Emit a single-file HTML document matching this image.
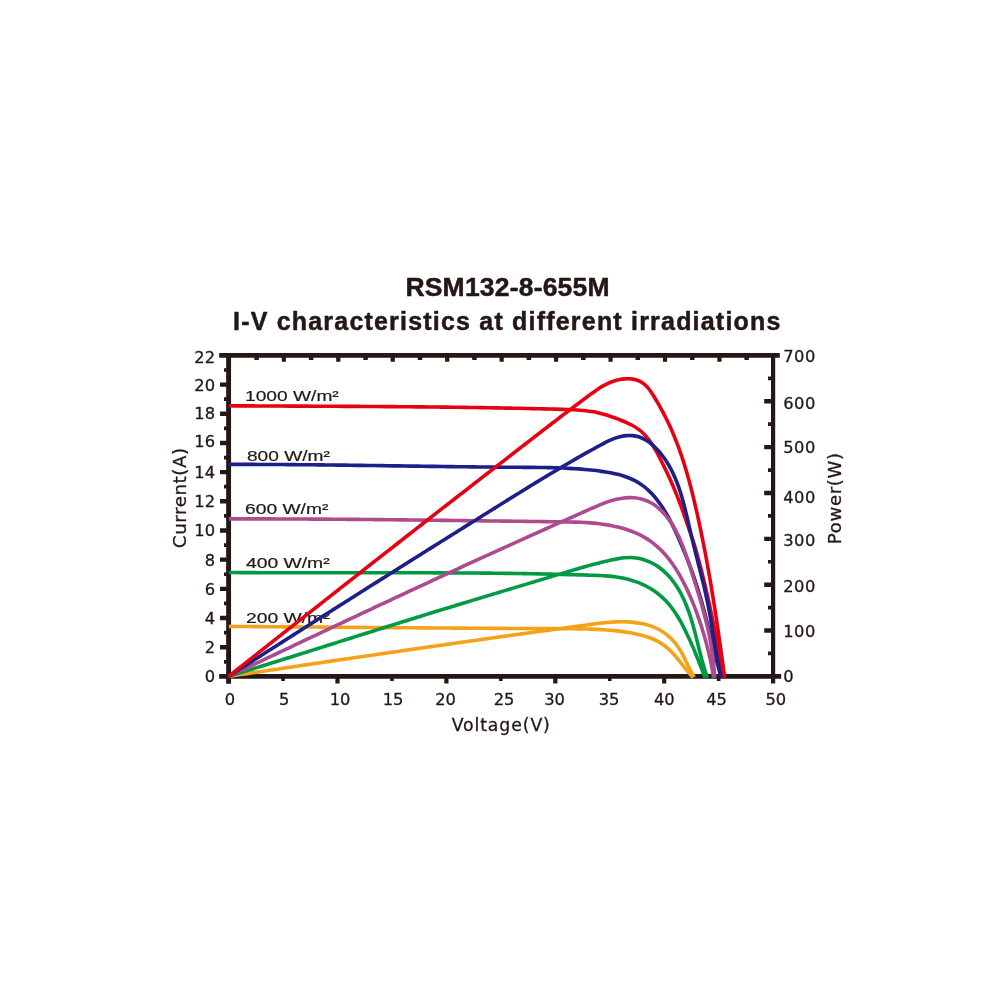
<!DOCTYPE html>
<html lang="en"><head><meta charset="utf-8"><title>RSM132-8-655M I-V characteristics</title>
<style>html,body{margin:0;padding:0;background:#fff}body{width:1000px;height:1000px;overflow:hidden}svg{display:block}</style></head>
<body>
<svg width="1000" height="1000" viewBox="0 0 1000 1000">
<rect width="1000" height="1000" fill="#fff"/>
<g stroke="#231815" fill="none">
<path stroke-width="4.9" d="M219.2 355.4H779.8 M219.2 676.4H781.2 M228.6 355.4V683.7"/>
<path stroke-width="4.2" d="M773.1 355.4V683.4"/>
<path stroke-width="4.4" d="M220.0 647.22H228.6M220.0 618.04H228.6M220.0 588.85H228.6M220.0 559.67H228.6M220.0 530.49H228.6M220.0 501.31H228.6M220.0 472.13H228.6M220.0 442.95H228.6M220.0 413.76H228.6M220.0 384.58H228.6M764.2 630.54H773.1M764.2 584.69H773.1M764.2 538.83H773.1M764.2 492.97H773.1M764.2 447.11H773.1M764.2 401.26H773.1"/>
<path stroke-width="3.7" d="M224.0 661.81H228.6M224.0 632.63H228.6M224.0 603.45H228.6M224.0 574.26H228.6M224.0 545.08H228.6M224.0 515.90H228.6M224.0 486.72H228.6M224.0 457.54H228.6M224.0 428.35H228.6M224.0 399.17H228.6M224.0 369.99H228.6M768.0 653.47H773.1M768.0 607.61H773.1M768.0 561.76H773.1M768.0 515.90H773.1M768.0 470.04H773.1M768.0 424.19H773.1M768.0 378.33H773.1"/>
<path stroke-width="4.2" d="M283.85 355.4V361.8M338.30 355.4V361.8M392.75 355.4V361.8M447.20 355.4V361.8M501.65 355.4V361.8M556.10 355.4V361.8M610.55 355.4V361.8M665.00 355.4V361.8M719.45 355.4V361.8"/>
<path stroke-width="4.5" d="M256.62 355.4V359.9M311.07 355.4V359.9M365.53 355.4V359.9M419.98 355.4V359.9M474.43 355.4V359.9M528.88 355.4V359.9M583.32 355.4V359.9M637.77 355.4V359.9M692.23 355.4V359.9M746.67 355.4V359.9"/>
<path stroke-width="4.2" d="M337.50 676.4V683.6M446.40 676.4V683.6M555.30 676.4V683.6M664.20 676.4V683.6"/>
<path stroke-width="3.6" d="M283.05 676.4V681.0M391.95 676.4V681.0M500.85 676.4V681.0M609.75 676.4V681.0M718.65 676.4V681.0"/>
</g>
<g fill="#231815" stroke="#231815" stroke-width="0.3" font-family='"DejaVu Sans", "Liberation Sans", sans-serif'>
<text x="215.0" y="682.3" font-size="16.3" text-anchor="end">0</text>
<text x="215.0" y="653.1" font-size="16.3" text-anchor="end">2</text>
<text x="215.0" y="623.9" font-size="16.3" text-anchor="end">4</text>
<text x="215.0" y="594.8" font-size="16.3" text-anchor="end">6</text>
<text x="215.0" y="565.6" font-size="16.3" text-anchor="end">8</text>
<text x="215.0" y="536.4" font-size="16.3" text-anchor="end">10</text>
<text x="215.0" y="506.8" font-size="16.3" text-anchor="end">12</text>
<text x="215.0" y="478.0" font-size="16.3" text-anchor="end">14</text>
<text x="215.0" y="447.3" font-size="16.3" text-anchor="end">16</text>
<text x="215.0" y="419.4" font-size="16.3" text-anchor="end">18</text>
<text x="215.0" y="391.4" font-size="16.3" text-anchor="end">20</text>
<text x="215.0" y="363.0" font-size="16.3" text-anchor="end">22</text>
<text x="783.2" y="682.3" font-size="16.3" letter-spacing="0.5">0</text>
<text x="783.2" y="637.0" font-size="16.3" letter-spacing="0.5">100</text>
<text x="783.2" y="591.5" font-size="16.3" letter-spacing="0.5">200</text>
<text x="783.2" y="545.5" font-size="16.3" letter-spacing="0.5">300</text>
<text x="783.2" y="502.9" font-size="16.3" letter-spacing="0.5">400</text>
<text x="783.2" y="453.2" font-size="16.3" letter-spacing="0.5">500</text>
<text x="783.2" y="408.7" font-size="16.3" letter-spacing="0.5">600</text>
<text x="783.2" y="361.6" font-size="16.3" letter-spacing="0.5">700</text>
<text x="230.0" y="704.9" font-size="16.3" text-anchor="middle">0</text>
<text x="284.1" y="704.9" font-size="16.3" text-anchor="middle">5</text>
<text x="340.0" y="704.9" font-size="16.3" text-anchor="middle">10</text>
<text x="393.0" y="704.9" font-size="16.3" text-anchor="middle">15</text>
<text x="445.5" y="704.9" font-size="16.3" text-anchor="middle">20</text>
<text x="504.1" y="704.9" font-size="16.3" text-anchor="middle">25</text>
<text x="554.5" y="704.9" font-size="16.3" text-anchor="middle">30</text>
<text x="609.1" y="704.9" font-size="16.3" text-anchor="middle">35</text>
<text x="664.3" y="704.9" font-size="16.3" text-anchor="middle">40</text>
<text x="716.5" y="704.9" font-size="16.3" text-anchor="middle">45</text>
<text x="775.8" y="704.9" font-size="16.3" text-anchor="middle">50</text>
<g font-family='"Liberation Sans", sans-serif' font-size="15.1" stroke-width="0.2">
<text transform="translate(245.0 400.9) scale(1.2706 1)">1000 W/m²</text>
<text transform="translate(246.9 460.9) scale(1.2686 1)">800 W/m²</text>
<text transform="translate(245.0 514.0) scale(1.2747 1)">600 W/m²</text>
<text transform="translate(245.9 568.4) scale(1.2793 1)">400 W/m²</text>
<text transform="translate(245.9 623.0) scale(1.2793 1)">200 W/m²</text>
</g>
<text x="501.2" y="731" font-size="17.3" text-anchor="middle" letter-spacing="0.9">Voltage(V)</text>
<text transform="translate(186 497.7) rotate(-90)" font-size="18.3" text-anchor="middle" letter-spacing="0.55">Current(A)</text>
<text transform="translate(841.2 498.2) rotate(-90)" font-size="18.1" text-anchor="middle" letter-spacing="0.65">Power(W)</text>
</g>
<g fill="#231815" stroke="#231815" stroke-width="0.5" stroke-linejoin="round" font-family='"Liberation Sans", sans-serif' font-weight="bold" text-anchor="middle">
<text x="507.6" y="295.8" font-size="26.5" letter-spacing="0.2">RSM132-8-655M</text>
<text x="507.3" y="329.9" font-size="25" letter-spacing="1.2">I-V characteristics at different irradiations</text>
</g>
<g fill="none" stroke-width="3.6" stroke-linecap="butt" stroke-linejoin="round">
<path stroke="#E60012" d="M228.80 405.80C230.82 405.81 232.84 405.82 234.85 405.83C236.87 405.84 238.89 405.85 240.91 405.86C242.92 405.87 244.94 405.88 246.96 405.89C248.98 405.90 250.99 405.91 253.01 405.92C255.03 405.93 257.05 405.94 259.07 405.95C261.08 405.96 263.10 405.97 265.12 405.98C267.14 405.99 269.15 406.00 271.17 406.00C273.19 406.01 275.21 406.02 277.23 406.03C279.24 406.04 281.26 406.05 283.28 406.06C285.30 406.07 287.32 406.07 289.33 406.08C291.35 406.09 293.37 406.10 295.39 406.11C297.41 406.12 299.42 406.13 301.44 406.13C303.46 406.14 305.48 406.15 307.50 406.16C309.51 406.17 311.53 406.18 313.55 406.19C315.57 406.20 317.59 406.21 319.60 406.21C321.62 406.22 323.64 406.23 325.66 406.24C327.68 406.25 329.69 406.26 331.71 406.27C333.73 406.28 335.75 406.29 337.77 406.30C339.78 406.31 341.80 406.32 343.82 406.33C345.84 406.34 347.86 406.35 349.87 406.36C351.89 406.37 353.91 406.39 355.93 406.40C357.95 406.41 359.96 406.42 361.98 406.43C364.00 406.44 366.02 406.46 368.04 406.47C370.05 406.48 372.07 406.49 374.09 406.51C376.11 406.52 378.13 406.53 380.14 406.55C382.16 406.56 384.18 406.57 386.20 406.59C388.22 406.60 390.23 406.62 392.25 406.63C394.27 406.65 396.29 406.66 398.31 406.68C400.33 406.70 402.34 406.71 404.36 406.73C406.38 406.75 408.40 406.76 410.42 406.78C412.43 406.80 414.45 406.82 416.47 406.84C418.49 406.85 420.51 406.87 422.52 406.89C424.54 406.91 426.56 406.93 428.58 406.95C430.60 406.97 432.61 407.00 434.63 407.02C436.65 407.04 438.67 407.06 440.69 407.08C442.70 407.11 444.72 407.13 446.74 407.16C448.76 407.18 450.78 407.20 452.79 407.23C454.81 407.25 456.83 407.28 458.85 407.31C460.86 407.33 462.88 407.36 464.90 407.39C466.92 407.42 468.94 407.44 470.95 407.47C472.97 407.50 474.99 407.53 477.01 407.56C479.03 407.59 481.04 407.63 483.06 407.66C485.08 407.69 487.10 407.72 489.11 407.76C491.13 407.79 493.15 407.82 495.17 407.86C497.19 407.89 499.20 407.93 501.22 407.97C503.24 408.00 505.26 408.04 507.27 408.08C509.29 408.12 511.31 408.16 513.33 408.20C515.35 408.24 517.36 408.28 519.38 408.32C521.40 408.36 523.42 408.40 525.43 408.44C527.45 408.49 529.47 408.53 531.49 408.58C533.50 408.62 535.52 408.67 537.54 408.72C539.56 408.76 541.57 408.81 543.59 408.86C545.61 408.91 547.63 408.96 549.64 409.01C551.66 409.06 553.68 409.11 555.70 409.17C557.71 409.22 559.73 409.27 561.75 409.33C563.76 409.39 565.78 409.44 567.80 409.51C569.81 409.59 571.83 409.67 573.84 409.78C575.85 409.89 577.86 410.01 579.86 410.17C581.86 410.34 583.86 410.52 585.86 410.75C587.85 410.99 589.84 411.25 591.83 411.58C593.81 411.90 595.79 412.26 597.75 412.69C599.72 413.12 601.69 413.61 603.64 414.15C605.59 414.70 607.53 415.30 609.47 415.94C611.41 416.58 613.33 417.27 615.25 417.98C617.17 418.70 619.08 419.44 620.98 420.21C622.88 420.98 624.77 421.76 626.63 422.61C628.47 423.45 630.30 424.32 632.07 425.28C633.82 426.24 635.55 427.25 637.18 428.37C638.80 429.49 640.36 430.70 641.83 432.01C643.30 433.32 644.68 434.74 645.99 436.22C647.30 437.70 648.53 439.28 649.72 440.89C650.90 442.52 652.02 444.22 653.09 445.93C654.18 447.66 655.20 449.44 656.20 451.22C657.21 453.01 658.16 454.83 659.11 456.65C660.06 458.47 660.98 460.30 661.90 462.12C662.81 463.94 663.71 465.77 664.59 467.59C665.48 469.42 666.35 471.24 667.20 473.07C668.05 474.90 668.89 476.73 669.72 478.56C670.55 480.39 671.36 482.23 672.16 484.07C672.96 485.90 673.74 487.75 674.51 489.59C675.28 491.44 676.04 493.29 676.79 495.15C677.53 497.01 678.26 498.88 678.98 500.75C679.70 502.62 680.41 504.50 681.11 506.38C681.80 508.27 682.48 510.16 683.16 512.07C683.83 513.97 684.48 515.88 685.14 517.80C685.79 519.72 686.43 521.65 687.09 523.56C687.74 525.48 688.40 527.40 689.07 529.31C689.74 531.22 690.44 533.11 691.11 535.02C691.77 536.92 692.44 538.82 693.07 540.73C693.70 542.64 694.29 544.57 694.87 546.49C695.45 548.42 696.00 550.35 696.55 552.29C697.10 554.23 697.63 556.17 698.15 558.11C698.68 560.06 699.20 562.00 699.71 563.95C700.22 565.90 700.73 567.85 701.22 569.80C701.72 571.76 702.21 573.71 702.70 575.67C703.18 577.63 703.66 579.58 704.13 581.55C704.60 583.51 705.07 585.47 705.53 587.43C705.99 589.40 706.44 591.36 706.89 593.33C707.34 595.30 707.78 597.27 708.22 599.24C708.66 601.21 709.10 603.18 709.53 605.15C709.96 607.13 710.38 609.10 710.80 611.08C711.22 613.05 711.64 615.03 712.06 617.01C712.47 618.98 712.88 620.96 713.29 622.94C713.69 624.92 714.10 626.90 714.50 628.88C714.90 630.86 715.30 632.84 715.70 634.82C716.09 636.80 716.48 638.78 716.88 640.76C717.27 642.74 717.66 644.72 718.05 646.70C718.43 648.68 718.82 650.66 719.21 652.65C719.59 654.63 719.98 656.61 720.36 658.59C720.74 660.57 721.12 662.55 721.51 664.53C721.89 666.51 722.27 668.49 722.65 670.47C723.04 672.44 723.56 675.15 723.80 676.40C723.91 676.98 723.96 677.25 724.05 677.68"/>
<path stroke="#1D2088" d="M228.80 464.40C230.83 464.40 232.85 464.40 234.88 464.39C236.90 464.39 238.93 464.39 240.95 464.40C242.98 464.40 245.01 464.40 247.03 464.40C249.06 464.41 251.08 464.41 253.11 464.42C255.13 464.42 257.16 464.43 259.19 464.43C261.21 464.44 263.24 464.45 265.27 464.46C267.29 464.47 269.32 464.48 271.34 464.49C273.37 464.50 275.40 464.51 277.42 464.52C279.45 464.54 281.48 464.55 283.50 464.56C285.53 464.58 287.55 464.59 289.58 464.61C291.61 464.62 293.63 464.64 295.66 464.66C297.69 464.67 299.71 464.69 301.74 464.71C303.77 464.73 305.79 464.74 307.82 464.76C309.85 464.78 311.87 464.80 313.90 464.82C315.93 464.84 317.95 464.87 319.98 464.89C322.01 464.91 324.03 464.93 326.06 464.95C328.09 464.98 330.11 465.00 332.14 465.02C334.17 465.05 336.20 465.07 338.22 465.10C340.25 465.12 342.28 465.15 344.30 465.17C346.33 465.20 348.36 465.22 350.38 465.25C352.41 465.27 354.44 465.30 356.46 465.33C358.49 465.35 360.52 465.38 362.54 465.41C364.57 465.43 366.60 465.46 368.63 465.49C370.65 465.52 372.68 465.54 374.71 465.57C376.73 465.60 378.76 465.63 380.79 465.66C382.81 465.69 384.84 465.71 386.87 465.74C388.89 465.77 390.92 465.80 392.95 465.83C394.97 465.86 397.00 465.88 399.03 465.91C401.05 465.94 403.08 465.97 405.11 466.00C407.13 466.03 409.16 466.06 411.19 466.08C413.21 466.11 415.24 466.14 417.27 466.17C419.29 466.20 421.32 466.23 423.35 466.25C425.37 466.28 427.40 466.31 429.43 466.34C431.45 466.37 433.48 466.39 435.51 466.42C437.53 466.45 439.56 466.47 441.59 466.50C443.61 466.53 445.64 466.55 447.66 466.58C449.69 466.61 451.72 466.63 453.74 466.66C455.77 466.68 457.79 466.71 459.82 466.73C461.85 466.76 463.87 466.78 465.90 466.81C467.92 466.83 469.95 466.85 471.98 466.88C474.00 466.90 476.03 466.92 478.05 466.94C480.08 466.97 482.11 466.99 484.13 467.01C486.16 467.03 488.18 467.05 490.21 467.07C492.23 467.09 494.26 467.11 496.28 467.13C498.31 467.14 500.33 467.16 502.36 467.18C504.38 467.20 506.41 467.21 508.43 467.23C510.46 467.25 512.48 467.26 514.51 467.27C516.53 467.29 518.56 467.30 520.58 467.32C522.61 467.33 524.63 467.34 526.66 467.35C528.68 467.37 530.71 467.38 532.73 467.40C534.76 467.42 536.78 467.43 538.80 467.46C540.83 467.48 542.85 467.51 544.88 467.54C546.90 467.58 548.93 467.62 550.95 467.66C552.97 467.71 555.00 467.77 557.02 467.83C559.05 467.90 561.07 467.97 563.10 468.05C565.12 468.14 567.15 468.23 569.17 468.34C571.20 468.45 573.22 468.56 575.24 468.70C577.27 468.83 579.29 468.98 581.32 469.14C583.34 469.31 585.37 469.49 587.39 469.68C589.42 469.88 591.45 470.09 593.47 470.33C595.50 470.56 597.52 470.81 599.55 471.08C601.57 471.36 603.60 471.64 605.62 471.97C607.64 472.30 609.65 472.64 611.65 473.04C613.65 473.44 615.63 473.87 617.60 474.36C619.56 474.85 621.50 475.38 623.42 475.99C625.32 476.60 627.21 477.25 629.06 478.00C630.90 478.74 632.71 479.55 634.48 480.45C636.24 481.35 637.96 482.33 639.63 483.41C641.30 484.49 642.92 485.67 644.48 486.92C646.05 488.17 647.56 489.52 649.02 490.92C650.49 492.32 651.90 493.80 653.27 495.32C654.63 496.85 655.95 498.44 657.22 500.06C658.48 501.67 659.70 503.34 660.88 505.03C662.05 506.71 663.18 508.42 664.26 510.15C665.35 511.88 666.38 513.63 667.39 515.39C668.40 517.16 669.36 518.94 670.31 520.73C671.25 522.53 672.15 524.34 673.04 526.16C673.92 527.97 674.78 529.80 675.63 531.64C676.47 533.48 677.29 535.33 678.11 537.18C678.92 539.03 679.73 540.89 680.52 542.75C681.32 544.61 682.11 546.47 682.88 548.34C683.66 550.21 684.43 552.08 685.19 553.96C685.95 555.84 686.71 557.72 687.45 559.60C688.18 561.49 688.91 563.38 689.63 565.27C690.35 567.17 691.05 569.07 691.74 570.97C692.43 572.87 693.11 574.78 693.77 576.69C694.44 578.61 695.09 580.52 695.72 582.45C696.36 584.37 696.98 586.30 697.58 588.23C698.19 590.16 698.78 592.10 699.36 594.03C699.94 595.97 700.51 597.92 701.07 599.87C701.63 601.81 702.18 603.76 702.71 605.72C703.25 607.67 703.78 609.63 704.30 611.58C704.83 613.54 705.34 615.50 705.85 617.47C706.36 619.43 706.86 621.39 707.36 623.36C707.86 625.32 708.35 627.29 708.84 629.26C709.33 631.23 709.82 633.20 710.30 635.17C710.79 637.14 711.27 639.11 711.76 641.07C712.24 643.04 712.73 645.01 713.21 646.98C713.70 648.95 714.19 650.92 714.68 652.89C715.17 654.85 715.66 656.82 716.16 658.78C716.66 660.75 717.16 662.71 717.67 664.67C718.18 666.63 718.69 668.59 719.21 670.54C719.73 672.50 720.46 675.16 720.80 676.40C720.96 676.97 721.03 677.24 721.14 677.65"/>
<path stroke="#AE4A8E" d="M228.80 518.90C230.83 518.90 232.85 518.89 234.88 518.89C236.91 518.89 238.94 518.88 240.96 518.88C242.99 518.88 245.02 518.88 247.04 518.88C249.07 518.88 251.10 518.88 253.13 518.88C255.15 518.88 257.18 518.88 259.21 518.89C261.23 518.89 263.26 518.89 265.29 518.90C267.31 518.90 269.34 518.90 271.37 518.91C273.39 518.91 275.42 518.92 277.45 518.93C279.47 518.93 281.50 518.94 283.53 518.94C285.55 518.95 287.58 518.96 289.61 518.97C291.63 518.98 293.66 518.98 295.69 518.99C297.71 519.00 299.74 519.01 301.77 519.02C303.79 519.03 305.82 519.04 307.85 519.06C309.87 519.07 311.90 519.08 313.92 519.09C315.95 519.10 317.98 519.12 320.00 519.13C322.03 519.14 324.06 519.16 326.08 519.17C328.11 519.18 330.14 519.20 332.16 519.21C334.19 519.23 336.21 519.24 338.24 519.26C340.27 519.28 342.29 519.29 344.32 519.31C346.35 519.33 348.37 519.34 350.40 519.36C352.42 519.38 354.45 519.39 356.48 519.41C358.50 519.43 360.53 519.45 362.56 519.47C364.58 519.49 366.61 519.51 368.64 519.52C370.66 519.54 372.69 519.56 374.71 519.58C376.74 519.60 378.77 519.62 380.79 519.65C382.82 519.67 384.85 519.69 386.87 519.71C388.90 519.73 390.93 519.75 392.95 519.77C394.98 519.79 397.01 519.82 399.03 519.84C401.06 519.86 403.09 519.88 405.11 519.91C407.14 519.93 409.16 519.95 411.19 519.97C413.22 520.00 415.24 520.02 417.27 520.04C419.30 520.07 421.33 520.09 423.35 520.11C425.38 520.14 427.41 520.16 429.43 520.19C431.46 520.21 433.49 520.23 435.51 520.26C437.54 520.28 439.57 520.31 441.59 520.33C443.62 520.36 445.65 520.38 447.68 520.41C449.70 520.43 451.73 520.46 453.76 520.48C455.78 520.51 457.81 520.53 459.84 520.56C461.87 520.58 463.89 520.61 465.92 520.63C467.95 520.66 469.98 520.68 472.00 520.71C474.03 520.74 476.06 520.76 478.09 520.79C480.11 520.81 482.14 520.84 484.17 520.86C486.20 520.89 488.23 520.91 490.25 520.94C492.28 520.96 494.31 520.99 496.34 521.02C498.37 521.04 500.39 521.07 502.42 521.09C504.45 521.12 506.48 521.14 508.51 521.17C510.53 521.19 512.56 521.22 514.59 521.24C516.62 521.27 518.65 521.30 520.67 521.32C522.70 521.35 524.73 521.37 526.75 521.40C528.78 521.42 530.80 521.45 532.83 521.48C534.85 521.50 536.88 521.53 538.90 521.55C540.92 521.58 542.94 521.61 544.97 521.64C546.99 521.66 549.01 521.69 551.03 521.72C553.04 521.74 555.06 521.77 557.08 521.80C559.09 521.83 561.11 521.86 563.12 521.89C565.14 521.92 567.15 521.94 569.16 521.98C571.17 522.02 573.18 522.05 575.20 522.11C577.21 522.16 579.23 522.22 581.25 522.31C583.27 522.40 585.30 522.50 587.33 522.63C589.36 522.76 591.40 522.91 593.44 523.10C595.48 523.29 597.52 523.50 599.56 523.75C601.60 524.00 603.64 524.28 605.67 524.60C607.69 524.92 609.72 525.27 611.73 525.67C613.74 526.07 615.74 526.50 617.73 526.99C619.71 527.47 621.68 528.00 623.63 528.58C625.57 529.16 627.50 529.78 629.41 530.46C631.31 531.14 633.19 531.87 635.04 532.66C636.88 533.45 638.70 534.29 640.48 535.19C642.26 536.10 644.02 537.06 645.73 538.09C647.44 539.12 649.11 540.22 650.74 541.38C652.37 542.54 653.95 543.77 655.49 545.05C657.04 546.34 658.54 547.69 659.99 549.08C661.44 550.48 662.85 551.94 664.22 553.44C665.58 554.93 666.90 556.48 668.17 558.07C669.45 559.65 670.67 561.28 671.85 562.94C673.04 564.59 674.17 566.29 675.28 568.00C676.38 569.71 677.44 571.45 678.48 573.20C679.52 574.96 680.52 576.73 681.50 578.52C682.47 580.30 683.42 582.10 684.34 583.91C685.26 585.73 686.15 587.55 687.02 589.39C687.89 591.23 688.73 593.08 689.55 594.94C690.38 596.80 691.17 598.67 691.95 600.54C692.73 602.42 693.48 604.31 694.22 606.20C694.96 608.09 695.67 609.99 696.37 611.89C697.07 613.79 697.76 615.70 698.43 617.62C699.09 619.53 699.75 621.44 700.38 623.36C701.02 625.28 701.64 627.21 702.24 629.14C702.84 631.07 703.43 633.00 704.00 634.94C704.57 636.87 705.13 638.82 705.66 640.76C706.20 642.71 706.72 644.66 707.22 646.62C707.72 648.58 708.21 650.54 708.67 652.51C709.14 654.48 709.59 656.45 710.02 658.43C710.45 660.41 710.86 662.39 711.26 664.38C711.65 666.37 712.03 668.37 712.38 670.37C712.74 672.38 713.19 675.13 713.40 676.40C713.50 676.98 713.54 677.25 713.62 677.68"/>
<path stroke="#009944" d="M228.80 572.50C230.83 572.52 232.85 572.53 234.88 572.55C236.90 572.57 238.93 572.58 240.96 572.60C242.98 572.61 245.01 572.62 247.04 572.64C249.06 572.65 251.09 572.66 253.12 572.67C255.14 572.68 257.17 572.69 259.20 572.70C261.22 572.71 263.25 572.72 265.28 572.73C267.30 572.74 269.33 572.75 271.36 572.75C273.38 572.76 275.41 572.77 277.44 572.77C279.46 572.78 281.49 572.78 283.52 572.79C285.55 572.79 287.57 572.80 289.60 572.80C291.63 572.80 293.65 572.81 295.68 572.81C297.71 572.81 299.74 572.81 301.76 572.82C303.79 572.82 305.82 572.82 307.84 572.82C309.87 572.82 311.90 572.82 313.93 572.82C315.95 572.82 317.98 572.82 320.01 572.82C322.04 572.82 324.06 572.82 326.09 572.82C328.12 572.82 330.15 572.82 332.17 572.82C334.20 572.82 336.23 572.81 338.26 572.81C340.28 572.81 342.31 572.81 344.34 572.81C346.37 572.81 348.39 572.80 350.42 572.80C352.45 572.80 354.48 572.80 356.51 572.80C358.53 572.79 360.56 572.79 362.59 572.79C364.62 572.79 366.64 572.79 368.67 572.79C370.70 572.78 372.73 572.78 374.75 572.78C376.78 572.78 378.81 572.78 380.84 572.78C382.87 572.78 384.89 572.78 386.92 572.77C388.95 572.77 390.98 572.77 393.00 572.77C395.03 572.77 397.06 572.77 399.09 572.77C401.11 572.77 403.14 572.78 405.17 572.78C407.20 572.78 409.23 572.78 411.25 572.78C413.28 572.78 415.31 572.79 417.34 572.79C419.36 572.79 421.39 572.79 423.42 572.80C425.45 572.80 427.47 572.81 429.50 572.81C431.53 572.82 433.56 572.82 435.58 572.83C437.61 572.83 439.64 572.84 441.67 572.85C443.69 572.85 445.72 572.86 447.75 572.87C449.78 572.88 451.80 572.89 453.83 572.90C455.86 572.91 457.89 572.92 459.91 572.93C461.94 572.94 463.97 572.95 466.00 572.97C468.02 572.98 470.05 572.99 472.08 573.01C474.10 573.02 476.13 573.04 478.16 573.06C480.19 573.07 482.21 573.09 484.24 573.11C486.27 573.13 488.29 573.15 490.32 573.17C492.35 573.19 494.37 573.21 496.40 573.23C498.43 573.25 500.45 573.28 502.48 573.30C504.51 573.33 506.53 573.35 508.56 573.38C510.59 573.41 512.61 573.43 514.64 573.46C516.67 573.49 518.69 573.52 520.72 573.56C522.75 573.59 524.77 573.62 526.80 573.65C528.83 573.69 530.85 573.72 532.88 573.76C534.90 573.80 536.93 573.84 538.96 573.88C540.98 573.92 543.01 573.96 545.03 574.00C547.06 574.04 549.09 574.08 551.11 574.13C553.14 574.17 555.16 574.22 557.19 574.27C559.21 574.32 561.24 574.37 563.26 574.42C565.29 574.47 567.32 574.52 569.34 574.58C571.37 574.63 573.39 574.69 575.42 574.75C577.44 574.80 579.47 574.86 581.49 574.92C583.52 574.98 585.54 575.05 587.57 575.11C589.59 575.18 591.62 575.24 593.64 575.31C595.66 575.38 597.69 575.44 599.71 575.52C601.74 575.61 603.76 575.69 605.78 575.83C607.80 575.96 609.82 576.12 611.83 576.34C613.84 576.56 615.85 576.84 617.85 577.17C619.86 577.50 621.85 577.89 623.84 578.33C625.82 578.78 627.80 579.27 629.77 579.83C631.73 580.39 633.68 581.00 635.61 581.67C637.53 582.35 639.44 583.08 641.31 583.88C643.18 584.68 645.02 585.55 646.82 586.49C648.61 587.43 650.37 588.44 652.08 589.53C653.78 590.61 655.44 591.77 657.05 592.99C658.65 594.21 660.21 595.50 661.71 596.84C663.21 598.19 664.65 599.60 666.04 601.06C667.43 602.52 668.77 604.04 670.04 605.60C671.32 607.17 672.53 608.78 673.70 610.43C674.87 612.08 675.98 613.77 677.05 615.48C678.13 617.20 679.15 618.95 680.14 620.72C681.14 622.48 682.09 624.28 683.02 626.08C683.96 627.89 684.86 629.71 685.75 631.54C686.63 633.37 687.50 635.20 688.36 637.04C689.22 638.88 690.06 640.72 690.88 642.57C691.71 644.42 692.52 646.28 693.32 648.14C694.12 650.00 694.91 651.87 695.68 653.74C696.46 655.61 697.22 657.48 697.97 659.36C698.73 661.24 699.47 663.13 700.20 665.02C700.93 666.91 701.66 668.80 702.37 670.70C703.09 672.59 704.05 675.20 704.50 676.40C704.71 676.96 704.80 677.21 704.95 677.62"/>
<path stroke="#F5A21B" d="M228.80 626.40C230.86 626.42 232.91 626.43 234.97 626.45C237.02 626.46 239.08 626.48 241.13 626.49C243.19 626.51 245.24 626.53 247.30 626.54C249.35 626.56 251.41 626.57 253.46 626.59C255.52 626.60 257.57 626.62 259.62 626.64C261.68 626.65 263.73 626.67 265.78 626.68C267.84 626.70 269.89 626.72 271.94 626.73C273.99 626.75 276.05 626.76 278.10 626.78C280.15 626.80 282.20 626.81 284.25 626.83C286.30 626.84 288.36 626.86 290.41 626.88C292.46 626.89 294.51 626.91 296.56 626.92C298.61 626.94 300.66 626.96 302.71 626.97C304.76 626.99 306.81 627.00 308.86 627.02C310.91 627.04 312.96 627.05 315.02 627.07C317.06 627.08 319.11 627.10 321.16 627.12C323.21 627.13 325.26 627.15 327.31 627.16C329.36 627.18 331.41 627.20 333.46 627.21C335.51 627.23 337.56 627.24 339.61 627.26C341.66 627.28 343.71 627.29 345.76 627.31C347.80 627.32 349.85 627.34 351.90 627.35C353.95 627.37 356.00 627.39 358.05 627.40C360.10 627.42 362.15 627.43 364.19 627.45C366.24 627.46 368.29 627.48 370.34 627.49C372.39 627.51 374.44 627.53 376.48 627.54C378.53 627.56 380.58 627.57 382.63 627.59C384.68 627.60 386.73 627.62 388.77 627.63C390.82 627.65 392.87 627.66 394.92 627.68C396.97 627.69 399.02 627.71 401.07 627.72C403.11 627.74 405.16 627.75 407.21 627.77C409.26 627.78 411.31 627.80 413.36 627.81C415.41 627.83 417.45 627.84 419.50 627.86C421.55 627.87 423.60 627.89 425.65 627.90C427.70 627.91 429.75 627.93 431.80 627.94C433.84 627.96 435.89 627.97 437.94 627.99C439.99 628.00 442.04 628.01 444.09 628.03C446.14 628.04 448.19 628.06 450.24 628.07C452.29 628.08 454.34 628.10 456.39 628.11C458.44 628.12 460.49 628.14 462.54 628.15C464.59 628.16 466.64 628.18 468.69 628.19C470.74 628.20 472.79 628.22 474.84 628.23C476.89 628.24 478.94 628.26 481.00 628.27C483.05 628.28 485.10 628.29 487.15 628.31C489.20 628.32 491.25 628.33 493.31 628.34C495.36 628.36 497.41 628.37 499.46 628.38C501.51 628.39 503.57 628.40 505.62 628.42C507.67 628.43 509.73 628.44 511.78 628.45C513.83 628.46 515.89 628.47 517.94 628.49C519.99 628.50 522.05 628.51 524.10 628.52C526.16 628.53 528.21 628.54 530.27 628.55C532.32 628.56 534.38 628.57 536.43 628.58C538.49 628.59 540.54 628.60 542.60 628.61C544.66 628.62 546.71 628.63 548.77 628.64C550.83 628.65 552.88 628.66 554.94 628.67C557.00 628.68 559.06 628.69 561.12 628.70C563.17 628.71 565.23 628.72 567.29 628.73C569.35 628.74 571.41 628.75 573.47 628.77C575.52 628.78 577.58 628.80 579.64 628.83C581.70 628.86 583.75 628.90 585.81 628.94C587.86 628.99 589.92 629.05 591.97 629.12C594.02 629.19 596.07 629.27 598.12 629.38C600.17 629.48 602.21 629.60 604.26 629.74C606.30 629.88 608.34 630.04 610.38 630.22C612.41 630.40 614.45 630.61 616.48 630.84C618.51 631.07 620.54 631.33 622.56 631.62C624.58 631.91 626.60 632.22 628.61 632.58C630.63 632.93 632.64 633.31 634.64 633.73C636.65 634.15 638.65 634.59 640.64 635.09C642.63 635.59 644.62 636.11 646.58 636.72C648.52 637.33 650.47 637.98 652.35 638.74C654.23 639.51 656.08 640.35 657.85 641.31C659.62 642.28 661.33 643.36 662.98 644.53C664.63 645.70 666.22 646.99 667.75 648.33C669.29 649.68 670.77 651.13 672.20 652.61C673.64 654.10 675.01 655.67 676.37 657.25C677.72 658.84 679.02 660.48 680.33 662.11C681.63 663.74 682.90 665.40 684.19 667.03C685.47 668.65 686.73 670.28 688.04 671.85C689.34 673.40 691.16 675.44 692.00 676.40C692.39 676.85 692.57 677.05 692.85 677.38"/>
<path stroke="#F5A21B" d="M228.60 676.40C230.61 676.10 232.62 675.80 234.63 675.49C236.64 675.19 238.65 674.89 240.66 674.59C242.67 674.29 244.68 673.99 246.69 673.68C248.71 673.38 250.72 673.08 252.73 672.78C254.74 672.48 256.75 672.18 258.76 671.88C260.77 671.58 262.79 671.28 264.80 670.98C266.81 670.68 268.82 670.38 270.83 670.08C272.84 669.78 274.86 669.48 276.87 669.18C278.88 668.88 280.89 668.58 282.91 668.28C284.92 667.98 286.93 667.68 288.94 667.38C290.96 667.08 292.97 666.78 294.98 666.48C296.99 666.19 299.01 665.89 301.02 665.59C303.03 665.29 305.05 664.99 307.06 664.69C309.07 664.40 311.09 664.10 313.10 663.80C315.11 663.50 317.13 663.21 319.14 662.91C321.15 662.61 323.17 662.31 325.18 662.02C327.19 661.72 329.21 661.42 331.22 661.13C333.24 660.83 335.25 660.54 337.26 660.24C339.28 659.94 341.29 659.65 343.31 659.35C345.32 659.06 347.33 658.76 349.35 658.47C351.36 658.17 353.38 657.88 355.39 657.58C357.41 657.29 359.42 656.99 361.43 656.70C363.45 656.41 365.46 656.11 367.48 655.82C369.49 655.52 371.51 655.23 373.52 654.94C375.54 654.64 377.55 654.35 379.57 654.06C381.58 653.77 383.60 653.47 385.61 653.18C387.63 652.89 389.64 652.60 391.66 652.30C393.67 652.01 395.68 651.72 397.70 651.43C399.71 651.14 401.73 650.85 403.74 650.56C405.76 650.27 407.77 649.98 409.79 649.68C411.80 649.39 413.82 649.10 415.83 648.81C417.85 648.52 419.86 648.24 421.88 647.95C423.89 647.66 425.91 647.37 427.92 647.08C429.94 646.79 431.95 646.50 433.97 646.21C435.99 645.93 438.00 645.64 440.02 645.35C442.03 645.06 444.05 644.78 446.06 644.49C448.08 644.20 450.09 643.91 452.11 643.63C454.12 643.34 456.14 643.06 458.15 642.77C460.17 642.48 462.18 642.20 464.20 641.91C466.21 641.63 468.22 641.34 470.24 641.06C472.25 640.77 474.27 640.49 476.28 640.21C478.30 639.92 480.31 639.64 482.33 639.35C484.34 639.07 486.36 638.79 488.37 638.51C490.39 638.22 492.40 637.94 494.42 637.66C496.43 637.38 498.45 637.09 500.46 636.81C502.47 636.53 504.49 636.25 506.50 635.97C508.52 635.69 510.53 635.41 512.55 635.13C514.56 634.85 516.57 634.57 518.59 634.29C520.60 634.01 522.62 633.73 524.63 633.45C526.64 633.17 528.66 632.89 530.67 632.61C532.69 632.34 534.70 632.06 536.71 631.78C538.73 631.50 540.74 631.23 542.75 630.95C544.77 630.67 546.78 630.40 548.79 630.12C550.81 629.84 552.82 629.57 554.83 629.29C556.85 629.02 558.86 628.74 560.87 628.47C562.89 628.19 564.90 627.92 566.91 627.65C568.92 627.37 570.94 627.10 572.95 626.82C574.96 626.55 576.97 626.28 578.99 626.01C581.00 625.73 583.01 625.46 585.02 625.19C587.04 624.92 589.05 624.64 591.06 624.38C593.07 624.11 595.08 623.84 597.10 623.59C599.11 623.34 601.13 623.10 603.15 622.88C605.17 622.67 607.19 622.46 609.22 622.30C611.25 622.14 613.29 622.00 615.32 621.90C617.37 621.81 619.41 621.75 621.46 621.74C623.52 621.74 625.59 621.77 627.65 621.87C629.71 621.97 631.79 622.12 633.85 622.34C635.90 622.56 637.96 622.84 639.99 623.20C642.02 623.56 644.03 623.99 646.01 624.51C647.98 625.03 649.93 625.63 651.82 626.33C653.71 627.02 655.57 627.81 657.36 628.70C659.15 629.58 660.89 630.58 662.56 631.66C664.23 632.75 665.84 633.94 667.38 635.20C668.92 636.47 670.40 637.84 671.80 639.27C673.20 640.71 674.53 642.23 675.79 643.81C677.04 645.40 678.22 647.07 679.32 648.78C680.43 650.51 681.44 652.31 682.42 654.12C683.40 655.93 684.30 657.81 685.21 659.67C686.12 661.53 686.98 663.42 687.87 665.27C688.77 667.12 689.64 668.97 690.58 670.77C691.51 672.55 692.88 674.89 693.50 676.00C693.79 676.52 693.92 676.76 694.13 677.14"/>
<path stroke="#009944" d="M228.60 676.40C230.54 675.80 232.47 675.21 234.41 674.61C236.34 674.01 238.28 673.41 240.22 672.81C242.15 672.21 244.09 671.61 246.02 671.01C247.96 670.41 249.89 669.81 251.83 669.21C253.76 668.61 255.70 668.00 257.63 667.40C259.57 666.80 261.50 666.19 263.44 665.59C265.37 664.99 267.31 664.38 269.24 663.78C271.18 663.17 273.11 662.57 275.04 661.96C276.98 661.35 278.91 660.75 280.85 660.14C282.78 659.53 284.71 658.93 286.65 658.32C288.58 657.71 290.52 657.11 292.45 656.50C294.38 655.89 296.32 655.28 298.25 654.67C300.18 654.06 302.12 653.46 304.05 652.85C305.98 652.24 307.92 651.63 309.85 651.02C311.78 650.41 313.72 649.80 315.65 649.19C317.58 648.58 319.52 647.97 321.45 647.36C323.38 646.75 325.32 646.14 327.25 645.53C329.18 644.92 331.11 644.31 333.05 643.71C334.98 643.10 336.91 642.49 338.85 641.88C340.78 641.27 342.71 640.66 344.65 640.05C346.58 639.44 348.51 638.83 350.45 638.22C352.38 637.61 354.31 637.00 356.25 636.39C358.18 635.78 360.11 635.17 362.05 634.57C363.98 633.96 365.91 633.35 367.85 632.74C369.78 632.13 371.71 631.53 373.65 630.92C375.58 630.31 377.52 629.70 379.45 629.10C381.38 628.49 383.32 627.88 385.25 627.28C387.19 626.67 389.12 626.07 391.05 625.46C392.99 624.85 394.92 624.25 396.86 623.65C398.79 623.04 400.73 622.44 402.66 621.83C404.60 621.23 406.53 620.63 408.47 620.03C410.40 619.42 412.34 618.82 414.27 618.22C416.21 617.62 418.14 617.02 420.08 616.42C422.02 615.82 423.95 615.22 425.89 614.62C427.82 614.02 429.76 613.43 431.70 612.83C433.63 612.23 435.57 611.64 437.51 611.04C439.44 610.44 441.38 609.85 443.32 609.26C445.26 608.66 447.19 608.07 449.13 607.48C451.07 606.88 453.01 606.29 454.94 605.70C456.88 605.11 458.82 604.52 460.76 603.93C462.70 603.34 464.64 602.75 466.58 602.16C468.51 601.57 470.45 600.98 472.39 600.39C474.33 599.81 476.27 599.22 478.21 598.63C480.15 598.04 482.09 597.46 484.03 596.87C485.97 596.29 487.91 595.70 489.85 595.12C491.79 594.53 493.73 593.95 495.67 593.36C497.61 592.78 499.55 592.19 501.49 591.61C503.43 591.02 505.37 590.44 507.31 589.86C509.25 589.27 511.19 588.69 513.14 588.11C515.08 587.52 517.02 586.94 518.96 586.36C520.90 585.77 522.84 585.19 524.78 584.61C526.73 584.03 528.67 583.44 530.61 582.86C532.55 582.28 534.49 581.69 536.43 581.11C538.38 580.53 540.32 579.95 542.26 579.36C544.20 578.78 546.14 578.20 548.09 577.62C550.03 577.03 551.97 576.45 553.91 575.87C555.86 575.28 557.80 574.70 559.74 574.12C561.68 573.53 563.63 572.95 565.57 572.37C567.51 571.79 569.46 571.21 571.40 570.63C573.35 570.06 575.29 569.48 577.24 568.92C579.19 568.36 581.13 567.80 583.08 567.24C585.03 566.69 586.98 566.15 588.94 565.62C590.89 565.08 592.85 564.56 594.81 564.05C596.76 563.54 598.73 563.04 600.69 562.55C602.65 562.06 604.62 561.59 606.59 561.13C608.56 560.68 610.53 560.23 612.51 559.81C614.48 559.39 616.46 558.97 618.45 558.63C620.43 558.30 622.42 557.98 624.42 557.79C626.41 557.60 628.42 557.47 630.42 557.49C632.44 557.52 634.47 557.66 636.47 557.95C638.49 558.24 640.52 558.69 642.49 559.25C644.48 559.81 646.44 560.51 648.34 561.30C650.23 562.10 652.07 563.02 653.85 564.02C655.61 565.02 657.32 566.13 658.96 567.32C660.60 568.50 662.17 569.78 663.69 571.12C665.20 572.46 666.65 573.88 668.03 575.35C669.42 576.82 670.74 578.37 672.00 579.95C673.27 581.53 674.47 583.17 675.61 584.84C676.75 586.51 677.84 588.22 678.86 589.95C679.89 591.68 680.86 593.45 681.78 595.23C682.70 597.02 683.56 598.83 684.39 600.66C685.21 602.50 685.99 604.35 686.73 606.23C687.47 608.10 688.17 609.99 688.84 611.90C689.51 613.81 690.15 615.73 690.76 617.67C691.37 619.60 691.95 621.55 692.51 623.51C693.08 625.46 693.61 627.43 694.14 629.40C694.67 631.38 695.18 633.36 695.68 635.34C696.19 637.32 696.68 639.31 697.17 641.30C697.67 643.28 698.15 645.27 698.64 647.25C699.14 649.23 699.63 651.22 700.14 653.19C700.64 655.16 701.15 657.13 701.68 659.09C702.21 661.05 702.75 663.00 703.32 664.94C703.88 666.88 704.46 668.80 705.08 670.72C705.69 672.62 706.59 675.20 707.00 676.40C707.19 676.96 707.28 677.22 707.42 677.63"/>
<path stroke="#AE4A8E" d="M228.60 676.40C230.43 675.53 232.25 674.67 234.08 673.80C235.91 672.94 237.74 672.07 239.57 671.21C241.40 670.34 243.23 669.48 245.05 668.61C246.88 667.74 248.71 666.88 250.55 666.01C252.38 665.14 254.21 664.28 256.04 663.41C257.87 662.54 259.70 661.67 261.53 660.81C263.37 659.94 265.20 659.07 267.03 658.20C268.86 657.34 270.70 656.47 272.53 655.60C274.37 654.73 276.20 653.86 278.03 653.00C279.87 652.13 281.70 651.26 283.54 650.39C285.37 649.52 287.21 648.65 289.04 647.79C290.88 646.92 292.72 646.05 294.55 645.18C296.39 644.31 298.23 643.44 300.06 642.58C301.90 641.71 303.74 640.84 305.57 639.97C307.41 639.10 309.25 638.23 311.09 637.37C312.93 636.50 314.76 635.63 316.60 634.76C318.44 633.89 320.28 633.02 322.12 632.16C323.96 631.29 325.80 630.42 327.63 629.55C329.47 628.69 331.31 627.82 333.15 626.95C334.99 626.09 336.83 625.22 338.67 624.35C340.51 623.48 342.35 622.62 344.19 621.75C346.03 620.89 347.87 620.02 349.71 619.15C351.55 618.29 353.39 617.42 355.23 616.56C357.07 615.69 358.92 614.83 360.76 613.96C362.60 613.10 364.44 612.23 366.28 611.37C368.12 610.51 369.96 609.64 371.80 608.78C373.64 607.92 375.48 607.05 377.32 606.19C379.17 605.33 381.01 604.47 382.85 603.61C384.69 602.74 386.53 601.88 388.37 601.02C390.21 600.16 392.05 599.30 393.89 598.44C395.74 597.58 397.58 596.72 399.42 595.86C401.26 595.01 403.10 594.15 404.94 593.29C406.78 592.43 408.62 591.57 410.46 590.72C412.30 589.86 414.14 589.01 415.99 588.15C417.83 587.29 419.67 586.44 421.51 585.59C423.35 584.73 425.19 583.88 427.03 583.03C428.87 582.17 430.71 581.32 432.55 580.47C434.39 579.62 436.23 578.77 438.07 577.92C439.91 577.07 441.75 576.22 443.58 575.37C445.42 574.52 447.26 573.67 449.10 572.82C450.94 571.98 452.78 571.13 454.62 570.28C456.46 569.44 458.29 568.59 460.13 567.75C461.97 566.90 463.81 566.06 465.65 565.22C467.48 564.37 469.32 563.53 471.16 562.69C472.99 561.85 474.83 561.01 476.67 560.17C478.50 559.33 480.34 558.49 482.18 557.66C484.01 556.82 485.85 555.98 487.69 555.14C489.52 554.31 491.36 553.47 493.20 552.63C495.04 551.80 496.87 550.96 498.71 550.13C500.55 549.29 502.39 548.46 504.23 547.63C506.07 546.79 507.91 545.96 509.75 545.12C511.59 544.29 513.43 543.46 515.27 542.62C517.11 541.79 518.96 540.96 520.80 540.13C522.65 539.29 524.49 538.46 526.34 537.63C528.18 536.80 530.03 535.96 531.88 535.13C533.73 534.30 535.58 533.47 537.43 532.63C539.28 531.80 541.13 530.97 542.99 530.14C544.84 529.30 546.70 528.47 548.55 527.64C550.41 526.80 552.27 525.97 554.13 525.13C555.99 524.30 557.85 523.47 559.72 522.63C561.58 521.80 563.45 520.96 565.32 520.12C567.18 519.29 569.05 518.45 570.93 517.62C572.80 516.78 574.67 515.94 576.55 515.10C578.43 514.26 580.31 513.43 582.19 512.59C584.07 511.75 585.96 510.90 587.84 510.07C589.73 509.23 591.62 508.38 593.51 507.55C595.40 506.73 597.30 505.90 599.20 505.12C601.10 504.33 603.00 503.57 604.92 502.86C606.83 502.16 608.74 501.48 610.67 500.89C612.59 500.30 614.52 499.75 616.47 499.30C618.41 498.85 620.36 498.46 622.32 498.19C624.27 497.92 626.25 497.73 628.22 497.67C630.20 497.60 632.20 497.65 634.18 497.82C636.17 498.00 638.18 498.30 640.13 498.74C642.09 499.17 644.04 499.74 645.91 500.44C647.78 501.15 649.62 502.01 651.36 502.99C653.11 503.97 654.79 505.11 656.39 506.33C658.00 507.56 659.53 508.92 661.00 510.33C662.47 511.75 663.86 513.27 665.18 514.83C666.51 516.38 667.77 518.01 668.97 519.66C670.16 521.30 671.29 522.99 672.36 524.71C673.44 526.43 674.45 528.18 675.42 529.96C676.38 531.73 677.30 533.54 678.17 535.37C679.05 537.19 679.87 539.05 680.67 540.91C681.47 542.78 682.23 544.67 682.96 546.57C683.70 548.47 684.40 550.39 685.09 552.31C685.77 554.24 686.43 556.17 687.09 558.11C687.74 560.05 688.38 562.00 689.01 563.94C689.65 565.89 690.28 567.83 690.90 569.78C691.53 571.72 692.16 573.66 692.78 575.61C693.40 577.55 694.01 579.49 694.63 581.43C695.24 583.37 695.85 585.31 696.45 587.25C697.05 589.19 697.64 591.13 698.23 593.07C698.82 595.02 699.39 596.96 699.96 598.90C700.53 600.84 701.09 602.79 701.64 604.74C702.19 606.68 702.73 608.63 703.26 610.58C703.79 612.53 704.31 614.48 704.81 616.44C705.31 618.39 705.80 620.35 706.28 622.31C706.75 624.27 707.21 626.24 707.66 628.20C708.10 630.17 708.53 632.14 708.94 634.12C709.35 636.10 709.75 638.08 710.12 640.06C710.50 642.05 710.86 644.03 711.19 646.03C711.53 648.02 711.85 650.02 712.15 652.03C712.44 654.04 712.72 656.05 712.97 658.06C713.22 660.08 713.45 662.11 713.66 664.13C713.87 666.17 714.05 668.20 714.21 670.25C714.36 672.29 714.52 675.11 714.60 676.40C714.64 676.99 714.66 677.27 714.68 677.70"/>
<path stroke="#1D2088" d="M228.60 676.40C230.30 675.31 231.99 674.22 233.69 673.13C235.39 672.04 237.08 670.95 238.78 669.86C240.48 668.77 242.18 667.69 243.87 666.60C245.57 665.51 247.27 664.42 248.97 663.33C250.67 662.24 252.37 661.16 254.07 660.07C255.76 658.98 257.46 657.89 259.16 656.81C260.86 655.72 262.56 654.63 264.26 653.54C265.96 652.46 267.66 651.37 269.36 650.28C271.06 649.20 272.76 648.11 274.47 647.02C276.17 645.94 277.87 644.85 279.57 643.77C281.27 642.68 282.97 641.60 284.67 640.51C286.38 639.43 288.08 638.34 289.78 637.25C291.48 636.17 293.19 635.09 294.89 634.00C296.59 632.92 298.29 631.83 300.00 630.75C301.70 629.66 303.40 628.58 305.11 627.50C306.81 626.41 308.51 625.33 310.22 624.25C311.92 623.16 313.63 622.08 315.33 621.00C317.04 619.91 318.74 618.83 320.44 617.75C322.15 616.67 323.85 615.58 325.56 614.50C327.26 613.42 328.97 612.34 330.68 611.26C332.38 610.18 334.09 609.09 335.79 608.01C337.50 606.93 339.20 605.85 340.91 604.77C342.62 603.69 344.32 602.61 346.03 601.53C347.74 600.45 349.44 599.37 351.15 598.29C352.86 597.21 354.56 596.13 356.27 595.05C357.98 593.97 359.68 592.89 361.39 591.81C363.10 590.73 364.80 589.66 366.51 588.58C368.22 587.50 369.93 586.42 371.64 585.34C373.34 584.26 375.05 583.19 376.76 582.11C378.47 581.03 380.17 579.95 381.88 578.88C383.59 577.80 385.30 576.72 387.01 575.65C388.72 574.57 390.42 573.49 392.13 572.42C393.84 571.34 395.55 570.27 397.26 569.19C398.97 568.11 400.68 567.04 402.39 565.96C404.09 564.89 405.80 563.81 407.51 562.74C409.22 561.66 410.93 560.59 412.64 559.51C414.35 558.44 416.06 557.37 417.77 556.29C419.48 555.22 421.19 554.14 422.90 553.07C424.61 552.00 426.32 550.92 428.03 549.85C429.74 548.78 431.44 547.71 433.15 546.63C434.86 545.56 436.57 544.49 438.28 543.42C439.99 542.35 441.70 541.27 443.41 540.20C445.12 539.13 446.83 538.06 448.54 536.99C450.25 535.92 451.96 534.85 453.67 533.78C455.38 532.71 457.09 531.63 458.80 530.56C460.51 529.49 462.22 528.43 463.93 527.36C465.64 526.29 467.35 525.22 469.06 524.15C470.77 523.08 472.48 522.01 474.19 520.94C475.90 519.87 477.61 518.80 479.32 517.74C481.03 516.67 482.74 515.60 484.45 514.53C486.16 513.46 487.87 512.40 489.58 511.33C491.29 510.26 493.00 509.20 494.71 508.13C496.42 507.06 498.13 506.00 499.84 504.93C501.55 503.86 503.26 502.80 504.97 501.73C506.68 500.67 508.39 499.60 510.10 498.54C511.82 497.48 513.53 496.41 515.24 495.35C516.95 494.29 518.66 493.23 520.38 492.17C522.09 491.11 523.80 490.05 525.52 488.99C527.24 487.93 528.95 486.88 530.67 485.82C532.39 484.77 534.11 483.71 535.83 482.66C537.55 481.61 539.27 480.56 540.99 479.52C542.72 478.47 544.44 477.42 546.17 476.38C547.90 475.34 549.63 474.30 551.36 473.26C553.09 472.22 554.83 471.19 556.56 470.15C558.30 469.12 560.04 468.09 561.78 467.07C563.52 466.04 565.26 465.01 567.01 463.99C568.76 462.97 570.51 461.95 572.26 460.94C574.01 459.93 575.77 458.92 577.52 457.91C579.28 456.90 581.04 455.90 582.81 454.90C584.58 453.90 586.34 452.90 588.12 451.91C589.89 450.92 591.67 449.93 593.44 448.95C595.23 447.96 597.01 446.98 598.80 446.01C600.59 445.04 602.37 444.05 604.18 443.12C605.98 442.19 607.78 441.25 609.62 440.42C611.45 439.59 613.30 438.79 615.18 438.13C617.06 437.47 618.97 436.88 620.91 436.46C622.85 436.03 624.84 435.72 626.81 435.59C628.78 435.46 630.78 435.47 632.74 435.66C634.69 435.86 636.65 436.22 638.53 436.78C640.42 437.34 642.28 438.12 644.05 439.03C645.84 439.95 647.57 441.08 649.22 442.27C650.89 443.48 652.48 444.85 654.01 446.26C655.54 447.67 656.99 449.20 658.38 450.75C659.76 452.28 661.08 453.88 662.33 455.50C663.57 457.11 664.74 458.77 665.86 460.45C666.97 462.13 668.02 463.84 669.02 465.57C670.02 467.30 670.95 469.07 671.85 470.85C672.75 472.63 673.59 474.43 674.40 476.25C675.21 478.08 675.97 479.92 676.70 481.77C677.43 483.63 678.12 485.51 678.78 487.40C679.45 489.29 680.07 491.19 680.67 493.10C681.28 495.02 681.85 496.95 682.41 498.89C682.96 500.83 683.49 502.77 684.00 504.73C684.52 506.68 685.01 508.65 685.50 510.62C685.99 512.58 686.45 514.56 686.92 516.54C687.39 518.51 687.84 520.49 688.30 522.47C688.75 524.45 689.20 526.44 689.66 528.42C690.11 530.40 690.57 532.38 691.03 534.35C691.50 536.32 691.97 538.30 692.44 540.26C692.92 542.23 693.40 544.20 693.89 546.16C694.38 548.12 694.87 550.08 695.36 552.04C695.86 553.99 696.35 555.95 696.85 557.90C697.35 559.85 697.85 561.81 698.34 563.76C698.84 565.71 699.33 567.66 699.83 569.61C700.32 571.56 700.81 573.51 701.30 575.47C701.78 577.42 702.26 579.37 702.74 581.33C703.21 583.28 703.68 585.24 704.14 587.19C704.60 589.15 705.05 591.11 705.49 593.07C705.93 595.04 706.36 597.00 706.78 598.97C707.20 600.94 707.61 602.91 708.01 604.89C708.40 606.87 708.78 608.85 709.15 610.83C709.52 612.82 709.87 614.81 710.22 616.80C710.57 618.79 710.90 620.79 711.23 622.79C711.56 624.78 711.89 626.78 712.21 628.78C712.53 630.78 712.85 632.79 713.17 634.79C713.49 636.79 713.81 638.79 714.14 640.79C714.47 642.78 714.80 644.78 715.13 646.78C715.47 648.77 715.82 650.77 716.17 652.76C716.53 654.75 716.90 656.73 717.28 658.71C717.66 660.70 718.06 662.67 718.47 664.65C718.89 666.62 719.32 668.58 719.77 670.54C720.23 672.50 720.90 675.16 721.20 676.40C721.34 676.97 721.41 677.24 721.51 677.66"/>
<path stroke="#E60012" d="M228.60 676.40C230.18 675.15 231.77 673.89 233.35 672.64C234.93 671.38 236.52 670.13 238.10 668.87C239.68 667.62 241.27 666.36 242.85 665.11C244.44 663.86 246.02 662.60 247.60 661.35C249.19 660.09 250.77 658.84 252.36 657.59C253.94 656.33 255.53 655.08 257.11 653.83C258.69 652.58 260.28 651.32 261.86 650.07C263.45 648.82 265.03 647.56 266.62 646.31C268.20 645.06 269.79 643.81 271.37 642.56C272.96 641.30 274.54 640.05 276.13 638.80C277.71 637.55 279.30 636.30 280.88 635.05C282.47 633.80 284.05 632.54 285.64 631.29C287.23 630.04 288.81 628.79 290.40 627.54C291.98 626.29 293.57 625.04 295.16 623.79C296.74 622.54 298.33 621.29 299.91 620.04C301.50 618.79 303.09 617.54 304.67 616.29C306.26 615.04 307.85 613.79 309.43 612.54C311.02 611.29 312.61 610.04 314.19 608.79C315.78 607.54 317.37 606.30 318.95 605.05C320.54 603.80 322.13 602.55 323.71 601.30C325.30 600.05 326.89 598.81 328.48 597.56C330.06 596.31 331.65 595.06 333.24 593.81C334.83 592.57 336.42 591.32 338.00 590.07C339.59 588.82 341.18 587.58 342.77 586.33C344.36 585.08 345.94 583.83 347.53 582.59C349.12 581.34 350.71 580.09 352.30 578.85C353.89 577.60 355.48 576.35 357.06 575.11C358.65 573.86 360.24 572.62 361.83 571.37C363.42 570.12 365.01 568.88 366.60 567.63C368.19 566.39 369.78 565.14 371.37 563.90C372.96 562.65 374.55 561.41 376.14 560.16C377.73 558.92 379.32 557.67 380.91 556.43C382.50 555.18 384.09 553.94 385.68 552.69C387.27 551.45 388.86 550.20 390.45 548.96C392.04 547.72 393.63 546.47 395.22 545.23C396.81 543.98 398.40 542.74 399.99 541.50C401.58 540.25 403.18 539.01 404.77 537.77C406.36 536.52 407.95 535.28 409.54 534.04C411.13 532.79 412.72 531.55 414.32 530.31C415.91 529.07 417.50 527.82 419.09 526.58C420.68 525.34 422.28 524.10 423.87 522.85C425.46 521.61 427.05 520.37 428.65 519.13C430.24 517.89 431.83 516.64 433.42 515.40C435.02 514.16 436.61 512.92 438.20 511.68C439.80 510.44 441.39 509.19 442.98 507.95C444.58 506.71 446.17 505.47 447.76 504.23C449.36 502.99 450.95 501.75 452.55 500.51C454.14 499.27 455.73 498.03 457.33 496.79C458.92 495.55 460.52 494.31 462.11 493.07C463.71 491.83 465.30 490.59 466.90 489.35C468.49 488.11 470.09 486.87 471.68 485.63C473.28 484.39 474.87 483.15 476.47 481.91C478.06 480.67 479.66 479.43 481.25 478.19C482.85 476.95 484.45 475.71 486.04 474.48C487.64 473.24 489.23 472.00 490.83 470.76C492.43 469.52 494.02 468.28 495.62 467.04C497.22 465.81 498.81 464.57 500.41 463.33C502.01 462.09 503.60 460.85 505.20 459.62C506.80 458.38 508.40 457.14 509.99 455.90C511.59 454.67 513.19 453.43 514.79 452.19C516.38 450.95 517.98 449.72 519.58 448.48C521.18 447.24 522.78 446.01 524.38 444.77C525.97 443.53 527.57 442.30 529.17 441.06C530.77 439.82 532.37 438.59 533.97 437.35C535.57 436.11 537.17 434.88 538.77 433.64C540.37 432.41 541.97 431.17 543.57 429.94C545.17 428.71 546.77 427.47 548.37 426.24C549.97 425.01 551.57 423.78 553.18 422.55C554.78 421.32 556.38 420.09 557.99 418.87C559.59 417.64 561.20 416.42 562.80 415.19C564.41 413.97 566.01 412.75 567.62 411.53C569.23 410.31 570.83 409.10 572.44 407.88C574.05 406.67 575.66 405.46 577.27 404.25C578.88 403.04 580.50 401.83 582.11 400.62C583.72 399.42 585.34 398.22 586.95 397.02C588.57 395.82 590.18 394.62 591.80 393.43C593.43 392.25 595.04 391.06 596.70 389.93C598.36 388.80 600.02 387.68 601.75 386.65C603.47 385.62 605.23 384.63 607.05 383.77C608.88 382.89 610.78 382.10 612.71 381.44C614.66 380.77 616.68 380.21 618.70 379.79C620.72 379.37 622.79 379.06 624.83 378.91C626.87 378.77 628.94 378.73 630.95 378.91C632.93 379.08 634.93 379.38 636.79 379.97C638.62 380.55 640.41 381.37 642.02 382.40C643.65 383.45 645.13 384.80 646.52 386.21C647.94 387.65 649.20 389.32 650.43 390.98C651.66 392.67 652.78 394.50 653.89 396.28C654.99 398.06 656.03 399.89 657.06 401.68C658.08 403.44 659.08 405.18 660.06 406.93C661.03 408.67 661.99 410.39 662.92 412.14C663.85 413.89 664.77 415.65 665.66 417.43C666.56 419.22 667.44 421.02 668.30 422.84C669.17 424.66 670.01 426.50 670.83 428.34C671.66 430.19 672.47 432.06 673.26 433.93C674.04 435.80 674.81 437.68 675.56 439.56C676.31 441.44 677.04 443.34 677.75 445.23C678.47 447.13 679.16 449.03 679.84 450.93C680.51 452.84 681.17 454.75 681.82 456.67C682.46 458.58 683.09 460.50 683.70 462.42C684.31 464.35 684.91 466.28 685.49 468.21C686.08 470.14 686.65 472.08 687.21 474.02C687.77 475.95 688.31 477.90 688.84 479.84C689.38 481.79 689.90 483.74 690.41 485.69C690.93 487.64 691.43 489.60 691.92 491.55C692.41 493.51 692.90 495.47 693.37 497.43C693.85 499.39 694.31 501.35 694.77 503.32C695.24 505.28 695.69 507.25 696.14 509.22C696.58 511.19 697.03 513.16 697.46 515.13C697.90 517.10 698.33 519.07 698.76 521.04C699.19 523.02 699.61 524.99 700.03 526.97C700.44 528.94 700.86 530.92 701.26 532.89C701.67 534.87 702.07 536.85 702.47 538.83C702.87 540.81 703.26 542.79 703.65 544.77C704.04 546.75 704.43 548.73 704.81 550.71C705.19 552.70 705.56 554.68 705.94 556.67C706.31 558.65 706.68 560.64 707.04 562.62C707.40 564.61 707.76 566.60 708.12 568.58C708.48 570.57 708.83 572.56 709.18 574.55C709.53 576.54 709.87 578.53 710.21 580.52C710.55 582.51 710.89 584.50 711.23 586.49C711.56 588.49 711.89 590.48 712.22 592.47C712.55 594.47 712.87 596.46 713.20 598.45C713.52 600.45 713.84 602.44 714.15 604.44C714.47 606.43 714.78 608.43 715.09 610.43C715.40 612.42 715.71 614.42 716.01 616.42C716.32 618.41 716.62 620.41 716.92 622.41C717.22 624.41 717.51 626.40 717.81 628.40C718.10 630.40 718.39 632.40 718.68 634.40C718.97 636.40 719.26 638.40 719.55 640.40C719.83 642.40 720.12 644.40 720.40 646.40C720.68 648.40 720.96 650.40 721.24 652.40C721.52 654.40 721.79 656.40 722.07 658.40C722.34 660.40 722.61 662.40 722.89 664.40C723.16 666.40 723.43 668.40 723.70 670.40C723.97 672.40 724.33 675.13 724.50 676.40C724.58 676.99 724.61 677.26 724.67 677.69"/>
</g>
</svg>
</body></html>
